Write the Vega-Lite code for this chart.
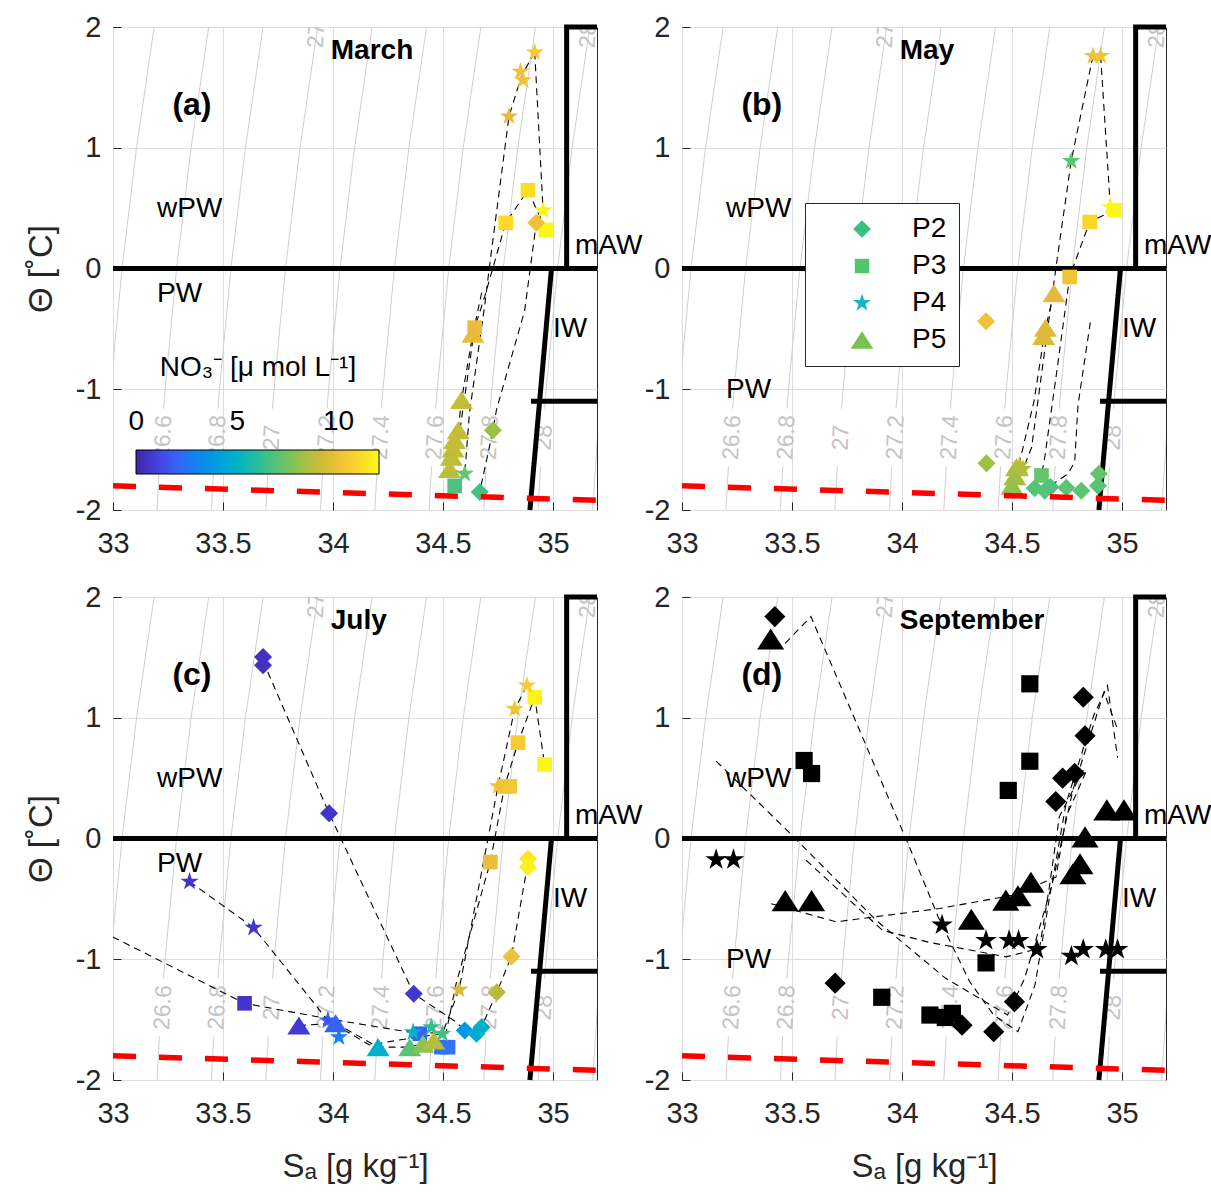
{
"$schema":"https://vega.github.io/schema/vega-lite/v6.json",
"padding":{"left":24,"top":12,"right":0,"bottom":0},
"config":{
 "font":"Liberation Sans",
 "view":{"stroke":"#262626","strokeWidth":1},
 "axis":{"labelFontSize":29,"labelColor":"#262626","titleFontSize":33,"titleFontWeight":"normal","titleColor":"#262626","domain":false,"grid":true,"gridColor":"#dddddd","gridWidth":1,"ticks":true,"tickSize":-8,"tickColor":"#262626","tickWidth":1,"labelFlush":false,"labelOverlap":false},
 "axisX":{"labelPadding":27,"titlePadding":22},
 "axisY":{"labelPadding":20,"titlePadding":17}
},
"datasets":{
 "iso":[
  {"id":"264","o":0,"S":32.952,"T":-2},{"id":"264","o":1,"S":32.989,"T":-1},{"id":"264","o":2,"S":33.041,"T":0},{"id":"264","o":3,"S":33.107,"T":1},{"id":"264","o":4,"S":33.187,"T":2},
  {"id":"266l","o":0,"S":33.200,"T":-2},{"id":"266l","o":1,"S":33.211,"T":-1.64},{"id":"266h","o":0,"S":33.230,"T":-1.16},{"id":"266h","o":1,"S":33.237,"T":-1},{"id":"266h","o":2,"S":33.289,"T":0},{"id":"266h","o":3,"S":33.355,"T":1},{"id":"266h","o":4,"S":33.435,"T":2},
  {"id":"268l","o":0,"S":33.447,"T":-2},{"id":"268l","o":1,"S":33.458,"T":-1.64},{"id":"268h","o":0,"S":33.477,"T":-1.16},{"id":"268h","o":1,"S":33.484,"T":-1},{"id":"268h","o":2,"S":33.536,"T":0},{"id":"268h","o":3,"S":33.602,"T":1},{"id":"268h","o":4,"S":33.682,"T":2},
  {"id":"270l","o":0,"S":33.695,"T":-2},{"id":"270l","o":1,"S":33.706,"T":-1.64},{"id":"270h","o":0,"S":33.725,"T":-1.16},{"id":"270h","o":1,"S":33.732,"T":-1},{"id":"270h","o":2,"S":33.784,"T":0},{"id":"270h","o":3,"S":33.850,"T":1},{"id":"270h","o":4,"S":33.930,"T":2},
  {"id":"272l","o":0,"S":33.943,"T":-2},{"id":"272l","o":1,"S":33.954,"T":-1.64},{"id":"272h","o":0,"S":33.973,"T":-1.16},{"id":"272h","o":1,"S":33.980,"T":-1},{"id":"272h","o":2,"S":34.032,"T":0},{"id":"272h","o":3,"S":34.098,"T":1},{"id":"272h","o":4,"S":34.178,"T":2},
  {"id":"274l","o":0,"S":34.190,"T":-2},{"id":"274l","o":1,"S":34.201,"T":-1.64},{"id":"274h","o":0,"S":34.220,"T":-1.16},{"id":"274h","o":1,"S":34.227,"T":-1},{"id":"274h","o":2,"S":34.279,"T":0},{"id":"274h","o":3,"S":34.345,"T":1},{"id":"274h","o":4,"S":34.425,"T":2},
  {"id":"276l","o":0,"S":34.437,"T":-2},{"id":"276l","o":1,"S":34.448,"T":-1.64},{"id":"276h","o":0,"S":34.467,"T":-1.16},{"id":"276h","o":1,"S":34.474,"T":-1},{"id":"276h","o":2,"S":34.526,"T":0},{"id":"276h","o":3,"S":34.592,"T":1},{"id":"276h","o":4,"S":34.672,"T":2},
  {"id":"278l","o":0,"S":34.685,"T":-2},{"id":"278l","o":1,"S":34.696,"T":-1.64},{"id":"278h","o":0,"S":34.715,"T":-1.16},{"id":"278h","o":1,"S":34.722,"T":-1},{"id":"278h","o":2,"S":34.774,"T":0},{"id":"278h","o":3,"S":34.840,"T":1},{"id":"278h","o":4,"S":34.920,"T":2},
  {"id":"280l","o":0,"S":34.932,"T":-2},{"id":"280l","o":1,"S":34.943,"T":-1.64},{"id":"280h","o":0,"S":34.962,"T":-1.16},{"id":"280h","o":1,"S":34.969,"T":-1},{"id":"280h","o":2,"S":35.021,"T":0},{"id":"280h","o":3,"S":35.087,"T":1},{"id":"280h","o":4,"S":35.167,"T":2},
  {"id":"282","o":0,"S":35.180,"T":-2},{"id":"282","o":1,"S":35.217,"T":-1}
 ],
 "isolab":[
  {"t":"26.6","S":33.228,"T":-1.4},{"t":"26.8","S":33.475,"T":-1.4},{"t":"27","S":33.723,"T":-1.4},{"t":"27.2","S":33.971,"T":-1.4},
  {"t":"27.4","S":34.218,"T":-1.4},{"t":"27.6","S":34.465,"T":-1.4},{"t":"27.8","S":34.713,"T":-1.4},{"t":"28","S":34.960,"T":-1.4},
  {"t":"27","S":33.925,"T":1.93},{"t":"28","S":35.16,"T":1.93}
 ],
 "bnd":[
  {"id":"h0","o":0,"S":33,"T":0},{"id":"h0","o":1,"S":35.2,"T":0},
  {"id":"m","o":0,"S":35.062,"T":0},{"id":"m","o":1,"S":35.062,"T":2},{"id":"m","o":2,"S":35.2,"T":2},
  {"id":"iw","o":0,"S":34.993,"T":0},{"id":"iw","o":1,"S":34.895,"T":-2},
  {"id":"h1","o":0,"S":34.90,"T":-1.1},{"id":"h1","o":1,"S":35.2,"T":-1.1}
 ],
 "frz":[{"o":0,"S":33,"T":-1.80},{"o":1,"S":35.2,"T":-1.92}],
 "txt":[
  {"p":"a","k":"reg","t":"wPW","S":33.2,"T":0.49},{"p":"a","k":"reg","t":"PW","S":33.2,"T":-0.21},{"p":"a","k":"reg","t":"mAW","S":35.1,"T":0.19},{"p":"a","k":"reg","t":"IW","S":35.0,"T":-0.505},{"p":"a","k":"mon","t":"March","S":33.99,"T":1.8},{"p":"a","k":"lab","t":"(a)","S":33.27,"T":1.35},
  {"p":"b","k":"reg","t":"wPW","S":33.2,"T":0.49},{"p":"b","k":"reg","t":"PW","S":33.2,"T":-1.01},{"p":"b","k":"reg","t":"mAW","S":35.1,"T":0.19},{"p":"b","k":"reg","t":"IW","S":35.0,"T":-0.505},{"p":"b","k":"mon","t":"May","S":33.99,"T":1.8},{"p":"b","k":"lab","t":"(b)","S":33.27,"T":1.35},
  {"p":"c","k":"reg","t":"wPW","S":33.2,"T":0.49},{"p":"c","k":"reg","t":"PW","S":33.2,"T":-0.21},{"p":"c","k":"reg","t":"mAW","S":35.1,"T":0.19},{"p":"c","k":"reg","t":"IW","S":35.0,"T":-0.505},{"p":"c","k":"mon","t":"July","S":33.99,"T":1.8},{"p":"c","k":"lab","t":"(c)","S":33.27,"T":1.35},
  {"p":"d","k":"reg","t":"wPW","S":33.2,"T":0.49},{"p":"d","k":"reg","t":"PW","S":33.2,"T":-1.01},{"p":"d","k":"reg","t":"mAW","S":35.1,"T":0.19},{"p":"d","k":"reg","t":"IW","S":35.0,"T":-0.505},{"p":"d","k":"mon","t":"September","S":33.99,"T":1.8},{"p":"d","k":"lab","t":"(d)","S":33.27,"T":1.35}
 ],
 "prof":[
  {"p":"a","id":"a1","o":0,"S":34.917,"T":1.79},{"p":"a","id":"a1","o":1,"S":34.858,"T":1.60},{"p":"a","id":"a1","o":2,"S":34.80,"T":1.26},{"p":"a","id":"a1","o":3,"S":34.71,"T":0.0},{"p":"a","id":"a1","o":4,"S":34.69,"T":-0.3},{"p":"a","id":"a1","o":5,"S":34.62,"T":-1.2},{"p":"a","id":"a1","o":6,"S":34.599,"T":-1.70},
  {"p":"a","id":"a2","o":0,"S":34.917,"T":1.79},{"p":"a","id":"a2","o":1,"S":34.955,"T":0.48},
  {"p":"a","id":"a3","o":0,"S":34.955,"T":0.48},{"p":"a","id":"a3","o":1,"S":34.924,"T":0.378},{"p":"a","id":"a3","o":2,"S":34.871,"T":-0.35},{"p":"a","id":"a3","o":3,"S":34.743,"T":-1.17},{"p":"a","id":"a3","o":4,"S":34.727,"T":-1.34},{"p":"a","id":"a3","o":5,"S":34.667,"T":-1.85},
  {"p":"a","id":"a4","o":0,"S":34.967,"T":0.32},{"p":"a","id":"a4","o":1,"S":34.886,"T":0.648},{"p":"a","id":"a4","o":2,"S":34.785,"T":0.378},{"p":"a","id":"a4","o":3,"S":34.69,"T":-0.23},{"p":"a","id":"a4","o":4,"S":34.644,"T":-0.49},{"p":"a","id":"a4","o":5,"S":34.58,"T":-1.3},{"p":"a","id":"a4","o":6,"S":34.553,"T":-1.80},
  {"p":"a","id":"a5","o":0,"S":34.676,"T":-0.2},{"p":"a","id":"a5","o":1,"S":34.636,"T":-0.54},{"p":"a","id":"a5","o":2,"S":34.584,"T":-1.09},{"p":"a","id":"a5","o":3,"S":34.569,"T":-1.34},{"p":"a","id":"a5","o":4,"S":34.553,"T":-1.42},{"p":"a","id":"a5","o":5,"S":34.546,"T":-1.49},{"p":"a","id":"a5","o":6,"S":34.538,"T":-1.56},{"p":"a","id":"a5","o":7,"S":34.53,"T":-1.66},
  {"p":"b","id":"b1","o":0,"S":34.868,"T":1.76},{"p":"b","id":"b1","o":1,"S":34.769,"T":0.89},{"p":"b","id":"b1","o":2,"S":34.70,"T":0.01},{"p":"b","id":"b1","o":3,"S":34.589,"T":-1.483},{"p":"b","id":"b1","o":4,"S":34.542,"T":-1.70},
  {"p":"b","id":"b2","o":0,"S":34.903,"T":1.76},{"p":"b","id":"b2","o":1,"S":34.947,"T":0.51},
  {"p":"b","id":"b3","o":0,"S":34.966,"T":0.483},{"p":"b","id":"b3","o":1,"S":34.853,"T":0.386},{"p":"b","id":"b3","o":2,"S":34.762,"T":-0.07},{"p":"b","id":"b3","o":3,"S":34.70,"T":-0.9},{"p":"b","id":"b3","o":4,"S":34.65,"T":-1.55},{"p":"b","id":"b3","o":5,"S":34.634,"T":-1.714},
  {"p":"b","id":"b4","o":0,"S":34.691,"T":-0.205},{"p":"b","id":"b4","o":1,"S":34.652,"T":-0.49},{"p":"b","id":"b4","o":2,"S":34.60,"T":-1.1},{"p":"b","id":"b4","o":3,"S":34.535,"T":-1.60},
  {"p":"b","id":"b5","o":0,"S":34.856,"T":-0.446},{"p":"b","id":"b5","o":1,"S":34.80,"T":-1.13},{"p":"b","id":"b5","o":2,"S":34.785,"T":-1.60},{"p":"b","id":"b5","o":3,"S":34.755,"T":-1.70},{"p":"b","id":"b5","o":4,"S":34.69,"T":-1.78},
  {"p":"c","id":"c1","o":0,"S":33.682,"T":1.47},{"p":"c","id":"c1","o":1,"S":33.982,"T":0.209},{"p":"c","id":"c1","o":2,"S":34.367,"T":-1.286},{"p":"c","id":"c1","o":3,"S":34.56,"T":-1.52},{"p":"c","id":"c1","o":4,"S":34.599,"T":-1.59},{"p":"c","id":"c1","o":5,"S":34.652,"T":-1.617},{"p":"c","id":"c1","o":6,"S":34.675,"T":-1.563},{"p":"c","id":"c1","o":7,"S":34.745,"T":-1.273},{"p":"c","id":"c1","o":8,"S":34.811,"T":-0.977},{"p":"c","id":"c1","o":9,"S":34.886,"T":-0.2},
  {"p":"c","id":"c2","o":0,"S":32.95,"T":-0.77},{"p":"c","id":"c2","o":1,"S":33.598,"T":-1.365},{"p":"c","id":"c2","o":2,"S":34.0,"T":-1.5},{"p":"c","id":"c2","o":3,"S":34.394,"T":-1.617},{"p":"c","id":"c2","o":4,"S":34.515,"T":-1.60},{"p":"c","id":"c2","o":5,"S":34.56,"T":-1.2},{"p":"c","id":"c2","o":6,"S":34.715,"T":-0.195},{"p":"c","id":"c2","o":7,"S":34.78,"T":0.432},{"p":"c","id":"c2","o":8,"S":34.841,"T":0.794},{"p":"c","id":"c2","o":9,"S":34.917,"T":1.17},{"p":"c","id":"c2","o":10,"S":34.962,"T":0.613},
  {"p":"c","id":"c3","o":0,"S":33.348,"T":-0.357},{"p":"c","id":"c3","o":1,"S":33.639,"T":-0.738},{"p":"c","id":"c3","o":2,"S":33.977,"T":-1.507},{"p":"c","id":"c3","o":3,"S":34.166,"T":-1.71},{"p":"c","id":"c3","o":4,"S":34.364,"T":-1.65},{"p":"c","id":"c3","o":5,"S":34.497,"T":-1.617},{"p":"c","id":"c3","o":6,"S":34.573,"T":-1.253},{"p":"c","id":"c3","o":7,"S":34.75,"T":0.432},{"p":"c","id":"c3","o":8,"S":34.826,"T":1.072},{"p":"c","id":"c3","o":9,"S":34.882,"T":1.267},{"p":"c","id":"c3","o":10,"S":34.917,"T":1.17},
  {"p":"c","id":"c4","o":0,"S":33.845,"T":-1.549},{"p":"c","id":"c4","o":1,"S":34.012,"T":-1.53},{"p":"c","id":"c4","o":2,"S":34.205,"T":-1.728},{"p":"c","id":"c4","o":3,"S":34.349,"T":-1.728},{"p":"c","id":"c4","o":4,"S":34.458,"T":-1.673},
  {"p":"d","id":"d1","o":0,"S":33.469,"T":1.616},{"p":"d","id":"d1","o":1,"S":33.586,"T":1.838},{"p":"d","id":"d1","o":2,"S":34.04,"T":-0.097},{"p":"d","id":"d1","o":3,"S":34.166,"T":-0.655},{"p":"d","id":"d1","o":4,"S":34.307,"T":-1.184},{"p":"d","id":"d1","o":5,"S":34.417,"T":-1.462},{"p":"d","id":"d1","o":6,"S":34.527,"T":-1.60},{"p":"d","id":"d1","o":7,"S":34.605,"T":-1.21},{"p":"d","id":"d1","o":8,"S":34.668,"T":-0.515},{"p":"d","id":"d1","o":9,"S":34.746,"T":0.292},{"p":"d","id":"d1","o":10,"S":34.871,"T":1.017},{"p":"d","id":"d1","o":11,"S":34.934,"T":1.267},{"p":"d","id":"d1","o":12,"S":34.98,"T":0.669},
  {"p":"d","id":"d2","o":0,"S":33.155,"T":0.641},{"p":"d","id":"d2","o":1,"S":33.492,"T":0.042},{"p":"d","id":"d2","o":2,"S":33.884,"T":-0.68},{"p":"d","id":"d2","o":3,"S":34.197,"T":-1.156},{"p":"d","id":"d2","o":4,"S":34.48,"T":-1.462},{"p":"d","id":"d2","o":5,"S":34.558,"T":-1.156},{"p":"d","id":"d2","o":6,"S":34.683,"T":-0.376},{"p":"d","id":"d2","o":7,"S":34.777,"T":0.404},{"p":"d","id":"d2","o":8,"S":34.918,"T":1.212},{"p":"d","id":"d2","o":9,"S":34.98,"T":0.905},
  {"p":"d","id":"d3","o":0,"S":33.405,"T":-0.54},{"p":"d","id":"d3","o":1,"S":33.70,"T":-0.69},{"p":"d","id":"d3","o":2,"S":34.17,"T":-0.58},{"p":"d","id":"d3","o":3,"S":34.503,"T":-0.47},{"p":"d","id":"d3","o":4,"S":34.70,"T":-0.32},{"p":"d","id":"d3","o":5,"S":34.746,"T":0.18},{"p":"d","id":"d3","o":6,"S":34.84,"T":0.568},
  {"p":"d","id":"d4","o":0,"S":33.564,"T":-0.18},{"p":"d","id":"d4","o":1,"S":33.911,"T":-0.76},{"p":"d","id":"d4","o":2,"S":34.124,"T":-0.86},{"p":"d","id":"d4","o":3,"S":34.473,"T":-0.98},{"p":"d","id":"d4","o":4,"S":34.625,"T":-0.91},{"p":"d","id":"d4","o":5,"S":34.67,"T":-0.40},{"p":"d","id":"d4","o":6,"S":34.715,"T":0.18},{"p":"d","id":"d4","o":7,"S":34.824,"T":0.568}
 ],
 "pts":[
  {"p":"a","k":"P4","S":34.917,"T":1.79,"N":10.4},{"p":"a","k":"P4","S":34.852,"T":1.63,"N":10.0},{"p":"a","k":"P4","S":34.864,"T":1.56,"N":10.1},{"p":"a","k":"P4","S":34.80,"T":1.26,"N":9.6},{"p":"a","k":"P4","S":34.955,"T":0.48,"N":11.8},{"p":"a","k":"P4","S":34.599,"T":-1.70,"N":7.2},
  {"p":"a","k":"P3","S":34.886,"T":0.648,"N":11.2},{"p":"a","k":"P3","S":34.785,"T":0.378,"N":11.1},{"p":"a","k":"P3","S":34.967,"T":0.32,"N":11.9},{"p":"a","k":"P3","S":34.644,"T":-0.49,"N":9.8},{"p":"a","k":"P3","S":34.553,"T":-1.80,"N":6.8},
  {"p":"a","k":"P2","S":34.924,"T":0.378,"N":10.0},{"p":"a","k":"P2","S":34.727,"T":-1.34,"N":8.2},{"p":"a","k":"P2","S":34.667,"T":-1.85,"N":6.6},
  {"p":"a","k":"P5","S":34.636,"T":-0.54,"N":9.7},{"p":"a","k":"P5","S":34.584,"T":-1.09,"N":8.9},{"p":"a","k":"P5","S":34.569,"T":-1.34,"N":8.9},{"p":"a","k":"P5","S":34.553,"T":-1.42,"N":8.9},{"p":"a","k":"P5","S":34.546,"T":-1.49,"N":8.9},{"p":"a","k":"P5","S":34.538,"T":-1.56,"N":8.8},{"p":"a","k":"P5","S":34.53,"T":-1.66,"N":8.8},
  {"p":"b","k":"P4","S":34.868,"T":1.76,"N":10.0},{"p":"b","k":"P4","S":34.903,"T":1.76,"N":10.2},{"p":"b","k":"P4","S":34.769,"T":0.89,"N":7.0},{"p":"b","k":"P4","S":34.947,"T":0.51,"N":11.9},{"p":"b","k":"P4","S":34.55,"T":-1.66,"N":8.5},{"p":"b","k":"P4","S":34.535,"T":-1.63,"N":8.7},
  {"p":"b","k":"P3","S":34.966,"T":0.483,"N":11.9},{"p":"b","k":"P3","S":34.853,"T":0.386,"N":11.0},{"p":"b","k":"P3","S":34.762,"T":-0.07,"N":10.2},{"p":"b","k":"P3","S":34.634,"T":-1.714,"N":7.2},
  {"p":"b","k":"P2","S":34.382,"T":-0.437,"N":10.1},{"p":"b","k":"P2","S":34.384,"T":-1.612,"N":8.2},{"p":"b","k":"P2","S":34.603,"T":-1.82,"N":6.9},{"p":"b","k":"P2","S":34.649,"T":-1.84,"N":7.0},{"p":"b","k":"P2","S":34.675,"T":-1.81,"N":6.8},{"p":"b","k":"P2","S":34.747,"T":-1.816,"N":7.0},{"p":"b","k":"P2","S":34.815,"T":-1.84,"N":7.0},{"p":"b","k":"P2","S":34.895,"T":-1.70,"N":7.2},{"p":"b","k":"P2","S":34.891,"T":-1.80,"N":7.0},
  {"p":"b","k":"P5","S":34.691,"T":-0.205,"N":9.6},{"p":"b","k":"P5","S":34.652,"T":-0.49,"N":9.5},{"p":"b","k":"P5","S":34.644,"T":-0.56,"N":9.4},{"p":"b","k":"P5","S":34.52,"T":-1.645,"N":8.6},{"p":"b","k":"P5","S":34.513,"T":-1.72,"N":8.3},{"p":"b","k":"P5","S":34.50,"T":-1.80,"N":8.0},
  {"p":"c","k":"P2","S":33.682,"T":1.504,"N":0.5},{"p":"c","k":"P2","S":33.682,"T":1.435,"N":0.5},{"p":"c","k":"P2","S":33.982,"T":0.209,"N":0.6},{"p":"c","k":"P2","S":34.367,"T":-1.286,"N":0.7},{"p":"c","k":"P2","S":34.599,"T":-1.59,"N":3.8},{"p":"c","k":"P2","S":34.652,"T":-1.617,"N":4.6},{"p":"c","k":"P2","S":34.675,"T":-1.563,"N":4.9},{"p":"c","k":"P2","S":34.745,"T":-1.273,"N":8.6},{"p":"c","k":"P2","S":34.811,"T":-0.977,"N":10.0},{"p":"c","k":"P2","S":34.886,"T":-0.167,"N":11.5},{"p":"c","k":"P2","S":34.886,"T":-0.237,"N":11.7},
  {"p":"c","k":"P3","S":34.917,"T":1.17,"N":11.8},{"p":"c","k":"P3","S":34.841,"T":0.794,"N":10.5},{"p":"c","k":"P3","S":34.803,"T":0.432,"N":10.4},{"p":"c","k":"P3","S":34.78,"T":0.432,"N":10.3},{"p":"c","k":"P3","S":34.962,"T":0.613,"N":11.9},{"p":"c","k":"P3","S":34.715,"T":-0.195,"N":9.8},{"p":"c","k":"P3","S":33.598,"T":-1.365,"N":0.6},{"p":"c","k":"P3","S":34.394,"T":-1.617,"N":2.0},{"p":"c","k":"P3","S":34.493,"T":-1.728,"N":2.2},{"p":"c","k":"P3","S":34.523,"T":-1.728,"N":2.4},
  {"p":"c","k":"P4","S":33.348,"T":-0.357,"N":0.6},{"p":"c","k":"P4","S":33.639,"T":-0.738,"N":0.7},{"p":"c","k":"P4","S":33.977,"T":-1.507,"N":1.7},{"p":"c","k":"P4","S":34.027,"T":-1.645,"N":3.0},{"p":"c","k":"P4","S":34.364,"T":-1.604,"N":5.0},{"p":"c","k":"P4","S":34.447,"T":-1.563,"N":6.3},{"p":"c","k":"P4","S":34.497,"T":-1.617,"N":6.6},{"p":"c","k":"P4","S":34.573,"T":-1.253,"N":9.3},{"p":"c","k":"P4","S":34.75,"T":0.432,"N":10.2},{"p":"c","k":"P4","S":34.826,"T":1.072,"N":10.2},{"p":"c","k":"P4","S":34.882,"T":1.267,"N":10.6},
  {"p":"c","k":"P5","S":33.845,"T":-1.549,"N":0.8},{"p":"c","k":"P5","S":34.012,"T":-1.53,"N":2.0},{"p":"c","k":"P5","S":34.205,"T":-1.728,"N":4.9},{"p":"c","k":"P5","S":34.349,"T":-1.728,"N":7.0},{"p":"c","k":"P5","S":34.409,"T":-1.70,"N":7.9},{"p":"c","k":"P5","S":34.458,"T":-1.673,"N":8.6},
  {"p":"d","k":"P2","S":33.422,"T":1.838},{"p":"d","k":"P2","S":34.824,"T":1.17},{"p":"d","k":"P2","S":34.832,"T":0.85},{"p":"d","k":"P2","S":34.73,"T":0.50},{"p":"d","k":"P2","S":34.785,"T":0.54},{"p":"d","k":"P2","S":34.699,"T":0.306},{"p":"d","k":"P2","S":33.696,"T":-1.198},{"p":"d","k":"P2","S":34.511,"T":-1.351},{"p":"d","k":"P2","S":34.273,"T":-1.546},{"p":"d","k":"P2","S":34.417,"T":-1.60},
  {"p":"d","k":"P3","S":33.555,"T":0.646},{"p":"d","k":"P3","S":33.589,"T":0.538},{"p":"d","k":"P3","S":34.581,"T":1.281},{"p":"d","k":"P3","S":34.581,"T":0.64},{"p":"d","k":"P3","S":34.483,"T":0.398},{"p":"d","k":"P3","S":34.382,"T":-1.03},{"p":"d","k":"P3","S":33.908,"T":-1.315},{"p":"d","k":"P3","S":34.127,"T":-1.462},{"p":"d","k":"P3","S":34.197,"T":-1.482},{"p":"d","k":"P3","S":34.229,"T":-1.448},
  {"p":"d","k":"P4","S":33.155,"T":-0.175},{"p":"d","k":"P4","S":33.234,"T":-0.175},{"p":"d","k":"P4","S":34.182,"T":-0.716},{"p":"d","k":"P4","S":34.382,"T":-0.844},{"p":"d","k":"P4","S":34.487,"T":-0.844},{"p":"d","k":"P4","S":34.53,"T":-0.844},{"p":"d","k":"P4","S":34.613,"T":-0.919},{"p":"d","k":"P4","S":34.77,"T":-0.975},{"p":"d","k":"P4","S":34.824,"T":-0.919},{"p":"d","k":"P4","S":34.926,"T":-0.919},{"p":"d","k":"P4","S":34.98,"T":-0.919},
  {"p":"d","k":"P5","S":33.403,"T":1.652},{"p":"d","k":"P5","S":33.469,"T":-0.515},{"p":"d","k":"P5","S":33.589,"T":-0.515},{"p":"d","k":"P5","S":34.315,"T":-0.669},{"p":"d","k":"P5","S":34.472,"T":-0.51},{"p":"d","k":"P5","S":34.527,"T":-0.474},{"p":"d","k":"P5","S":34.586,"T":-0.362},{"p":"d","k":"P5","S":34.777,"T":-0.292},{"p":"d","k":"P5","S":34.809,"T":-0.209},{"p":"d","k":"P5","S":34.832,"T":0.014},{"p":"d","k":"P5","S":34.931,"T":0.237},{"p":"d","k":"P5","S":35.009,"T":0.237}
 ]
},
"bounds":"flush",
"columns":2,
"spacing":{"row":87,"column":85},
"resolve":{"scale":{"color":"independent","shape":"independent"},"legend":{"color":"independent","shape":"independent"}},
"concat":[
  {"width":484,"height":483,
   "encoding":{"x":{"field":"S","type":"quantitative","scale":{"domain":[33,35.2],"nice":false,"zero":false},"axis":{"values":[33,33.5,34,34.5,35],"labelExpr":"''+datum.value","title":null}},"y":{"field":"T","type":"quantitative","scale":{"domain":[-2,2],"nice":false,"zero":false},"axis":{"values":[-2,-1,0,1,2],"labelExpr":"''+datum.value","title":"Θ [˚C]"}}},
   "layer":[
   {"data":{"name":"iso"},"mark":{"type":"line","clip":true,"color":"#cfcfcf","strokeWidth":1},"encoding":{"detail":{"field":"id"},"order":{"field":"o","type":"quantitative"}}},
   {"data":{"name":"isolab"},"mark":{"type":"text","clip":true,"color":"#c4c4c4","fontSize":23,"angle":273,"align":"center","baseline":"middle"},"encoding":{"text":{"field":"t"}}},
   {"data":{"name":"bnd"},"mark":{"type":"line","color":"black","strokeWidth":5,"strokeCap":"butt","strokeJoin":"miter"},"encoding":{"detail":{"field":"id"},"order":{"field":"o","type":"quantitative"}}},
   {"data":{"name":"prof"},"transform":[{"filter":"datum.p==='a'"}],"mark":{"type":"line","clip":true,"color":"black","strokeWidth":1.1,"strokeDash":[7,5]},"encoding":{"detail":{"field":"id"},"order":{"field":"o","type":"quantitative"}}},
   {"data":{"name":"pts"},"transform":[{"filter":"datum.p==='a'"}],"mark":{"type":"point","filled":true,"opacity":1,"strokeWidth":0,"size":576},"encoding":{
     "shape":{"field":"k","type":"nominal","scale":{"domain":["P2","P3","P4","P5"],"range":["M0,-0.75L0.75,0L0,0.75L-0.75,0Z","M-0.61,-0.61H0.61V0.61H-0.61Z","M0,-0.8L0.18,-0.247L0.761,-0.247L0.29,0.094L0.47,0.647L0,0.306L-0.47,0.647L-0.29,0.094L-0.761,-0.247L-0.18,-0.247Z","M0,-0.75L0.96,0.75L-0.96,0.75Z"]},"legend":null},
     "color":{"field":"N","type":"quantitative","scale":{"domain":[0,1.2,2.4,3.6,4.8,6,7.2,8.4,9.6,10.8,12],"range":["#3e26a8","#4544e9","#3470f8","#1e92e8","#0aafcb","#28bc9c","#65c46b","#a9be3c","#e7b93c","#fbd02d","#f9fb15"]},
       "legend":{"orient":"none","legendX":23,"legendY":327,"direction":"horizontal","gradientLength":243,"gradientThickness":24,"title":"NO₃⁻ [μ mol L⁻¹]","titleFontSize":28,"titleFontWeight":"normal","titleColor":"black","titleAnchor":"middle","titlePadding":68,"titleLimit":400,"labelFontSize":28,"labelColor":"black","values":[0.01,5,10],"labelExpr":"datum.value < 1 ? '0' : datum.label","labelOffset":-66,"labelOverlap":false,"gradientStrokeColor":"black","gradientStrokeWidth":1,"padding":0}}}},
   {"data":{"name":"frz"},"mark":{"type":"line","color":"#ff0000","strokeWidth":5.5,"strokeDash":[23,23],"strokeCap":"butt"},"encoding":{"order":{"field":"o","type":"quantitative"}}},
   {"data":{"name":"txt"},"transform":[{"filter":"datum.p==='a' && datum.k==='reg'"}],"mark":{"type":"text","align":"left","baseline":"middle","fontSize":28,"color":"black"},"encoding":{"text":{"field":"t"}}},
   {"data":{"name":"txt"},"transform":[{"filter":"datum.p==='a' && datum.k==='mon'"}],"mark":{"type":"text","align":"left","baseline":"middle","fontSize":28,"fontWeight":"bold","color":"black"},"encoding":{"text":{"field":"t"}}},
   {"data":{"name":"txt"},"transform":[{"filter":"datum.p==='a' && datum.k==='lab'"}],"mark":{"type":"text","align":"left","baseline":"middle","fontSize":32,"fontWeight":"bold","color":"black"},"encoding":{"text":{"field":"t"}}}
  ]},
  {"width":484,"height":483,
   "encoding":{"x":{"field":"S","type":"quantitative","scale":{"domain":[33,35.2],"nice":false,"zero":false},"axis":{"values":[33,33.5,34,34.5,35],"labelExpr":"''+datum.value","title":null}},"y":{"field":"T","type":"quantitative","scale":{"domain":[-2,2],"nice":false,"zero":false},"axis":{"values":[-2,-1,0,1,2],"labelExpr":"''+datum.value","title":null}}},
   "layer":[
   {"data":{"name":"iso"},"mark":{"type":"line","clip":true,"color":"#cfcfcf","strokeWidth":1},"encoding":{"detail":{"field":"id"},"order":{"field":"o","type":"quantitative"}}},
   {"data":{"name":"isolab"},"mark":{"type":"text","clip":true,"color":"#c4c4c4","fontSize":23,"angle":273,"align":"center","baseline":"middle"},"encoding":{"text":{"field":"t"}}},
   {"data":{"name":"bnd"},"mark":{"type":"line","color":"black","strokeWidth":5,"strokeCap":"butt","strokeJoin":"miter"},"encoding":{"detail":{"field":"id"},"order":{"field":"o","type":"quantitative"}}},
   {"data":{"name":"prof"},"transform":[{"filter":"datum.p==='b'"}],"mark":{"type":"line","clip":true,"color":"black","strokeWidth":1.1,"strokeDash":[7,5]},"encoding":{"detail":{"field":"id"},"order":{"field":"o","type":"quantitative"}}},
   {"data":{"name":"pts"},"transform":[{"filter":"datum.p==='b'"}],"mark":{"type":"point","filled":true,"opacity":1,"strokeWidth":0,"size":576},"encoding":{
     "shape":{"field":"k","type":"nominal","scale":{"domain":["P2","P3","P4","P5"],"range":["M0,-0.75L0.75,0L0,0.75L-0.75,0Z","M-0.61,-0.61H0.61V0.61H-0.61Z","M0,-0.8L0.18,-0.247L0.761,-0.247L0.29,0.094L0.47,0.647L0,0.306L-0.47,0.647L-0.29,0.094L-0.761,-0.247L-0.18,-0.247Z","M0,-0.75L0.96,0.75L-0.96,0.75Z"]},
       "legend":{"orient":"none","legendX":123,"legendY":176,"title":null,"direction":"vertical","strokeColor":"#262626","fillColor":"white","padding":12,"symbolSize":560,"symbolOffset":31,"labelOffset":36,"labelFontSize":28,"labelColor":"black","rowPadding":9,"symbolStrokeWidth":0,"symbolOpacity":1,"symbolFillColor":{"expr":"datum.value==='P2'?'#3bc17e':datum.value==='P3'?'#4fc66d':datum.value==='P4'?'#15b4c8':'#78c350'"}}},
     "color":{"field":"N","type":"quantitative","scale":{"domain":[0,1.2,2.4,3.6,4.8,6,7.2,8.4,9.6,10.8,12],"range":["#3e26a8","#4544e9","#3470f8","#1e92e8","#0aafcb","#28bc9c","#65c46b","#a9be3c","#e7b93c","#fbd02d","#f9fb15"]},"legend":null}}},
   {"data":{"name":"frz"},"mark":{"type":"line","color":"#ff0000","strokeWidth":5.5,"strokeDash":[23,23],"strokeCap":"butt"},"encoding":{"order":{"field":"o","type":"quantitative"}}},
   {"data":{"name":"txt"},"transform":[{"filter":"datum.p==='b' && datum.k==='reg'"}],"mark":{"type":"text","align":"left","baseline":"middle","fontSize":28,"color":"black"},"encoding":{"text":{"field":"t"}}},
   {"data":{"name":"txt"},"transform":[{"filter":"datum.p==='b' && datum.k==='mon'"}],"mark":{"type":"text","align":"left","baseline":"middle","fontSize":28,"fontWeight":"bold","color":"black"},"encoding":{"text":{"field":"t"}}},
   {"data":{"name":"txt"},"transform":[{"filter":"datum.p==='b' && datum.k==='lab'"}],"mark":{"type":"text","align":"left","baseline":"middle","fontSize":32,"fontWeight":"bold","color":"black"},"encoding":{"text":{"field":"t"}}}
  ]},
  {"width":484,"height":483,
   "encoding":{"x":{"field":"S","type":"quantitative","scale":{"domain":[33,35.2],"nice":false,"zero":false},"axis":{"values":[33,33.5,34,34.5,35],"labelExpr":"''+datum.value","title":"Sₐ [g kg⁻¹]"}},"y":{"field":"T","type":"quantitative","scale":{"domain":[-2,2],"nice":false,"zero":false},"axis":{"values":[-2,-1,0,1,2],"labelExpr":"''+datum.value","title":"Θ [˚C]"}}},
   "layer":[
   {"data":{"name":"iso"},"mark":{"type":"line","clip":true,"color":"#cfcfcf","strokeWidth":1},"encoding":{"detail":{"field":"id"},"order":{"field":"o","type":"quantitative"}}},
   {"data":{"name":"isolab"},"mark":{"type":"text","clip":true,"color":"#c4c4c4","fontSize":23,"angle":273,"align":"center","baseline":"middle"},"encoding":{"text":{"field":"t"}}},
   {"data":{"name":"bnd"},"mark":{"type":"line","color":"black","strokeWidth":5,"strokeCap":"butt","strokeJoin":"miter"},"encoding":{"detail":{"field":"id"},"order":{"field":"o","type":"quantitative"}}},
   {"data":{"name":"prof"},"transform":[{"filter":"datum.p==='c'"}],"mark":{"type":"line","clip":true,"color":"black","strokeWidth":1.1,"strokeDash":[7,5]},"encoding":{"detail":{"field":"id"},"order":{"field":"o","type":"quantitative"}}},
   {"data":{"name":"pts"},"transform":[{"filter":"datum.p==='c'"}],"mark":{"type":"point","filled":true,"opacity":1,"strokeWidth":0,"size":576},"encoding":{
     "shape":{"field":"k","type":"nominal","scale":{"domain":["P2","P3","P4","P5"],"range":["M0,-0.75L0.75,0L0,0.75L-0.75,0Z","M-0.61,-0.61H0.61V0.61H-0.61Z","M0,-0.8L0.18,-0.247L0.761,-0.247L0.29,0.094L0.47,0.647L0,0.306L-0.47,0.647L-0.29,0.094L-0.761,-0.247L-0.18,-0.247Z","M0,-0.75L0.96,0.75L-0.96,0.75Z"]},"legend":null},
     "color":{"field":"N","type":"quantitative","scale":{"domain":[0,1.2,2.4,3.6,4.8,6,7.2,8.4,9.6,10.8,12],"range":["#3e26a8","#4544e9","#3470f8","#1e92e8","#0aafcb","#28bc9c","#65c46b","#a9be3c","#e7b93c","#fbd02d","#f9fb15"]},"legend":null}}},
   {"data":{"name":"frz"},"mark":{"type":"line","color":"#ff0000","strokeWidth":5.5,"strokeDash":[23,23],"strokeCap":"butt"},"encoding":{"order":{"field":"o","type":"quantitative"}}},
   {"data":{"name":"txt"},"transform":[{"filter":"datum.p==='c' && datum.k==='reg'"}],"mark":{"type":"text","align":"left","baseline":"middle","fontSize":28,"color":"black"},"encoding":{"text":{"field":"t"}}},
   {"data":{"name":"txt"},"transform":[{"filter":"datum.p==='c' && datum.k==='mon'"}],"mark":{"type":"text","align":"left","baseline":"middle","fontSize":28,"fontWeight":"bold","color":"black"},"encoding":{"text":{"field":"t"}}},
   {"data":{"name":"txt"},"transform":[{"filter":"datum.p==='c' && datum.k==='lab'"}],"mark":{"type":"text","align":"left","baseline":"middle","fontSize":32,"fontWeight":"bold","color":"black"},"encoding":{"text":{"field":"t"}}}
  ]},
  {"width":484,"height":483,
   "encoding":{"x":{"field":"S","type":"quantitative","scale":{"domain":[33,35.2],"nice":false,"zero":false},"axis":{"values":[33,33.5,34,34.5,35],"labelExpr":"''+datum.value","title":"Sₐ [g kg⁻¹]"}},"y":{"field":"T","type":"quantitative","scale":{"domain":[-2,2],"nice":false,"zero":false},"axis":{"values":[-2,-1,0,1,2],"labelExpr":"''+datum.value","title":null}}},
   "layer":[
   {"data":{"name":"iso"},"mark":{"type":"line","clip":true,"color":"#cfcfcf","strokeWidth":1},"encoding":{"detail":{"field":"id"},"order":{"field":"o","type":"quantitative"}}},
   {"data":{"name":"isolab"},"mark":{"type":"text","clip":true,"color":"#c4c4c4","fontSize":23,"angle":273,"align":"center","baseline":"middle"},"encoding":{"text":{"field":"t"}}},
   {"data":{"name":"bnd"},"mark":{"type":"line","color":"black","strokeWidth":5,"strokeCap":"butt","strokeJoin":"miter"},"encoding":{"detail":{"field":"id"},"order":{"field":"o","type":"quantitative"}}},
   {"data":{"name":"prof"},"transform":[{"filter":"datum.p==='d'"}],"mark":{"type":"line","clip":true,"color":"black","strokeWidth":1.1,"strokeDash":[7,5]},"encoding":{"detail":{"field":"id"},"order":{"field":"o","type":"quantitative"}}},
   {"data":{"name":"pts"},"transform":[{"filter":"datum.p==='d'"}],"mark":{"type":"point","filled":true,"opacity":1,"strokeWidth":0,"size":795,"color":"black"},"encoding":{
     "shape":{"field":"k","type":"nominal","scale":{"domain":["P2","P3","P4","P5"],"range":["M0,-0.75L0.75,0L0,0.75L-0.75,0Z","M-0.61,-0.61H0.61V0.61H-0.61Z","M0,-0.8L0.18,-0.247L0.761,-0.247L0.29,0.094L0.47,0.647L0,0.306L-0.47,0.647L-0.29,0.094L-0.761,-0.247L-0.18,-0.247Z","M0,-0.75L0.96,0.75L-0.96,0.75Z"]},"legend":null}}},
   {"data":{"name":"frz"},"mark":{"type":"line","color":"#ff0000","strokeWidth":5.5,"strokeDash":[23,23],"strokeCap":"butt"},"encoding":{"order":{"field":"o","type":"quantitative"}}},
   {"data":{"name":"txt"},"transform":[{"filter":"datum.p==='d' && datum.k==='reg'"}],"mark":{"type":"text","align":"left","baseline":"middle","fontSize":28,"color":"black"},"encoding":{"text":{"field":"t"}}},
   {"data":{"name":"txt"},"transform":[{"filter":"datum.p==='d' && datum.k==='mon'"}],"mark":{"type":"text","align":"left","baseline":"middle","fontSize":28,"fontWeight":"bold","color":"black"},"encoding":{"text":{"field":"t"}}},
   {"data":{"name":"txt"},"transform":[{"filter":"datum.p==='d' && datum.k==='lab'"}],"mark":{"type":"text","align":"left","baseline":"middle","fontSize":32,"fontWeight":"bold","color":"black"},"encoding":{"text":{"field":"t"}}}
  ]}
]
}
